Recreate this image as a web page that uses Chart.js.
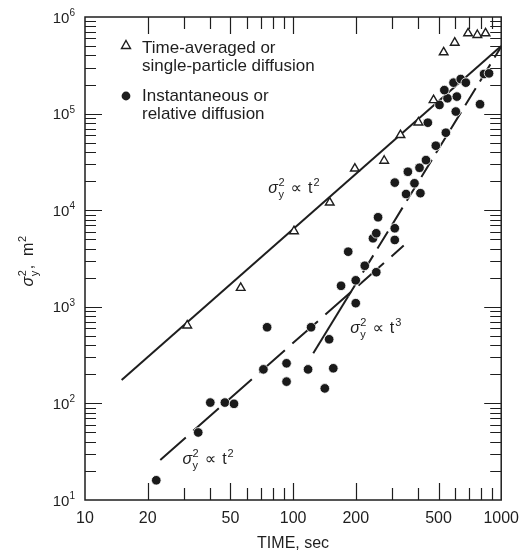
<!DOCTYPE html>
<html>
<head>
<meta charset="utf-8">
<title>Lateral spread vs time</title>
<script src="https://cdn.jsdelivr.net/npm/chart.js@4.4.1/dist/chart.umd.min.js"></script>
<style>
  html, body { margin: 0; padding: 0; background: #fff; }
  #wrap { width: 528px; height: 553px; }
</style>
</head>
<body>
<div id="wrap"><canvas id="chart" width="528" height="553"></canvas></div>
<script>
// time-averaged or single-particle diffusion (open triangles)
const singleTime = [31, 56, 101, 150, 198, 274, 328, 400, 473, 529, 598, 693, 768, 841];
const singleSigma = [640, 1570, 6060, 12000, 27000, 32500, 60000, 81000, 138000, 431000, 542000, 678000, 651000, 678000];

// instantaneous or relative diffusion (filled dots)
const relTime = [22, 35, 40, 47, 52, 72, 93, 93, 118, 75, 122, 149, 142, 156, 170,
    200, 200, 184, 221, 251, 242, 251, 308, 308, 256, 308, 356, 383, 405, 409,
    349, 435, 485, 542, 444, 505, 552, 612, 605, 533, 590, 639, 676, 791, 827, 874];
const relSigma = [16, 50, 102, 102, 99, 225, 260, 168, 225, 614, 614, 461, 143, 231, 1650,
    1090, 1880, 3720, 2660, 2280, 5120, 5770, 4920, 6500, 8450, 19300, 25000, 19000, 27500, 15000,
    14700, 33000, 46500, 63400, 80500, 123000, 144000, 150000, 105000, 175000, 209000, 228000, 209000, 125000, 257000, 261000];

// fitted lines
const fitSingleTime = [15, 1000];
const fitSingleSigma = [175, 500000];
const fitRelTime = [23, 340];
const fitRelSigma = [26, 4300];
const fitCubeTime = [125, 184, 1000];
const fitCubeSigma = [330, 1285, 493000];

const xTicks = [10, 20, 50, 100, 200, 500, 1000];
const xMinor = [20, 30, 40, 50, 60, 70, 80, 90, 200, 300, 400, 500, 600, 700, 800, 900];
const xLong = [20, 50, 100, 200, 500];
const yTicks = [10, 100, 1000, 10000, 100000, 1000000];
const yTickPow = ['1', '2', '3', '4', '5', '6'];

// "sigma_y^2 ∝ t^n" notes, anchored in data units
const noteTime = [76, 188, 29.4];
const noteSigma = [15000, 536, 23.6];
const notePow = ['2', '3', '2'];

const legendText = [
    ['Time-averaged or', 'single-particle diffusion'],
    ['Instantaneous or', 'relative diffusion']
];

const FONT = '"Liberation Sans", Arial, sans-serif';
const INK = '#1e1e1e';

function toPoints(xs, ys) {
    return xs.map((x, i) => ({ x: x, y: ys[i] }));
}

// sigma with subscript y and superscript 2, returns the x where it ends
function drawSigma(ctx, x, y, size) {
    ctx.font = 'italic ' + size + 'px ' + FONT;
    ctx.fillText('σ', x, y);
    x += ctx.measureText('σ').width + 0.5;
    const small = Math.round(size * 0.7);
    ctx.font = small + 'px ' + FONT;
    ctx.fillText('2', x, y - size * 0.45);
    ctx.fillText('y', x, y + size * 0.3);
    return x + ctx.measureText('2').width + 1;
}

function drawPow(ctx, x, y, size, pow) {
    ctx.font = Math.round(size * 0.7) + 'px ' + FONT;
    ctx.fillText(pow, x, y - size * 0.45);
}

const framePlugin = {
    id: 'frame',
    afterDraw(chart) {
        const ctx = chart.ctx;
        const a = chart.chartArea;
        const xs = chart.scales.x;
        const ys = chart.scales.y;
        ctx.save();
        ctx.strokeStyle = INK;
        ctx.fillStyle = INK;

        ctx.lineWidth = 1.5;
        ctx.strokeRect(a.left, a.top, a.right - a.left, a.bottom - a.top);

        // inner tick marks, x
        ctx.lineWidth = 1.2;
        ctx.beginPath();
        xMinor.concat([100]).forEach(v => {
            const px = Math.round(xs.getPixelForValue(v)) + 0.5;
            const len = xLong.includes(v) ? 17 : 12;
            ctx.moveTo(px, a.bottom); ctx.lineTo(px, a.bottom - len);
            ctx.moveTo(px, a.top); ctx.lineTo(px, a.top + len);
        });
        // inner tick marks, y
        for (let d = 10; d < 1000000; d *= 10) {
            for (let m = 1; m < 10; m++) {
                const v = d * m;
                if (v === 10) continue;
                const py = Math.round(ys.getPixelForValue(v)) + 0.5;
                const len = m === 1 ? 17 : 11;
                ctx.moveTo(a.left, py); ctx.lineTo(a.left + len, py);
                ctx.moveTo(a.right, py); ctx.lineTo(a.right - len, py);
            }
        }
        ctx.stroke();

        // y tick labels 10^n
        ctx.textAlign = 'left';
        ctx.textBaseline = 'alphabetic';
        yTicks.forEach((v, i) => {
            const py = ys.getPixelForValue(v);
            ctx.font = '10px ' + FONT;
            const supW = ctx.measureText(yTickPow[i]).width;
            ctx.font = '15px ' + FONT;
            const baseW = ctx.measureText('10').width;
            const right = a.left - 10;
            ctx.fillText('10', right - supW - baseW, py + 5.5);
            ctx.font = '10px ' + FONT;
            ctx.fillText(yTickPow[i], right - supW, py - 1);
        });

        // y axis title, rotated
        ctx.save();
        ctx.translate(33, (a.top + a.bottom) / 2 + 28);
        ctx.rotate(-Math.PI / 2);
        let tx = drawSigma(ctx, 0, 0, 16);
        ctx.font = '16px ' + FONT;
        ctx.fillText(',  m', tx, 0);
        tx += ctx.measureText(',  m').width + 0.5;
        drawPow(ctx, tx, 0, 16, '2');
        ctx.restore();

        // slope notes
        noteTime.forEach((t, i) => {
            const px = xs.getPixelForValue(t);
            const py = ys.getPixelForValue(noteSigma[i]);
            let nx = drawSigma(ctx, px, py, 16);
            ctx.font = '16px "DejaVu Sans", ' + FONT;
            ctx.fillText('\u221D', nx + 5, py);
            nx += 5 + ctx.measureText('\u221D').width + 6;
            ctx.font = '16px ' + FONT;
            ctx.fillText('t', nx, py);
            nx += ctx.measureText('t').width + 1;
            drawPow(ctx, nx, py, 16, notePow[i]);
        });

        // legend
        const lx = a.left + 41;
        const ly = a.top + 28;
        ctx.lineWidth = 1.4;
        ctx.beginPath();
        ctx.moveTo(lx, ly - 4.5);
        ctx.lineTo(lx + 4.5, ly + 3.5);
        ctx.lineTo(lx - 4.5, ly + 3.5);
        ctx.closePath();
        ctx.stroke();
        ctx.beginPath();
        ctx.arc(lx, ly + 51, 4.4, 0, Math.PI * 2);
        ctx.fill();
        ctx.font = '17px ' + FONT;
        ctx.fillText(legendText[0][0], lx + 16, ly + 8);
        ctx.fillText(legendText[0][1], lx + 16, ly + 26);
        ctx.fillText(legendText[1][0], lx + 16, ly + 56);
        ctx.fillText(legendText[1][1], lx + 16, ly + 74);

        ctx.restore();
    }
};

Chart.defaults.font.family = FONT;
Chart.defaults.color = INK;

const ctx = document.getElementById('chart').getContext('2d');
new Chart(ctx, {
    type: 'scatter',
    data: {
        datasets: [
            {
                label: 'Time-averaged or single-particle diffusion',
                data: toPoints(singleTime, singleSigma),
                pointStyle: 'triangle',
                pointRadius: 5,
                borderColor: INK,
                backgroundColor: '#fff',
                borderWidth: 1.4
            },
            {
                label: 'Instantaneous or relative diffusion',
                data: toPoints(relTime, relSigma),
                pointStyle: 'circle',
                pointRadius: 4.8,
                borderColor: '#fff',
                backgroundColor: '#1a1a1a',
                borderWidth: 0.8
            },
            {
                label: 'fit single t^2',
                data: toPoints(fitSingleTime, fitSingleSigma),
                showLine: true,
                borderColor: INK,
                borderWidth: 2,
                pointRadius: 0
            },
            {
                label: 'fit relative t^2',
                data: toPoints(fitRelTime, fitRelSigma),
                showLine: true,
                borderColor: INK,
                borderWidth: 2,
                borderDash: [34, 10],
                pointRadius: 0
            },
            {
                label: 'fit relative t^3',
                data: toPoints(fitCubeTime, fitCubeSigma),
                showLine: true,
                borderColor: INK,
                borderWidth: 2,
                pointRadius: 0,
                segment: {
                    borderDash: c => c.p0DataIndex === 0 ? [] : [20, 8]
                }
            }
        ]
    },
    options: {
        responsive: false,
        animation: false,
        devicePixelRatio: 1,
        layout: { padding: { left: 0, right: 24, top: 17, bottom: 0 } },
        plugins: {
            legend: { display: false },
            tooltip: { enabled: false }
        },
        scales: {
            x: {
                type: 'logarithmic',
                min: 10,
                max: 1000,
                grid: { display: false, drawTicks: false },
                border: { display: false },
                afterBuildTicks: scale => { scale.ticks = xTicks.map(v => ({ value: v })); },
                afterFit: scale => { scale.height = 53; },
                ticks: {
                    autoSkip: false,
                    maxRotation: 0,
                    padding: 9,
                    font: { size: 16 },
                    color: INK,
                    callback: value => String(value)
                },
                title: {
                    display: true,
                    text: 'TIME, sec',
                    font: { size: 16 },
                    color: INK,
                    padding: { top: 4, bottom: 0 }
                }
            },
            y: {
                type: 'logarithmic',
                min: 10,
                max: 1000000,
                grid: { display: false, drawTicks: false },
                border: { display: false },
                ticks: { display: false },
                afterFit: scale => { scale.width = 85; }
            }
        }
    },
    plugins: [framePlugin]
});
</script>
</body>
</html>
